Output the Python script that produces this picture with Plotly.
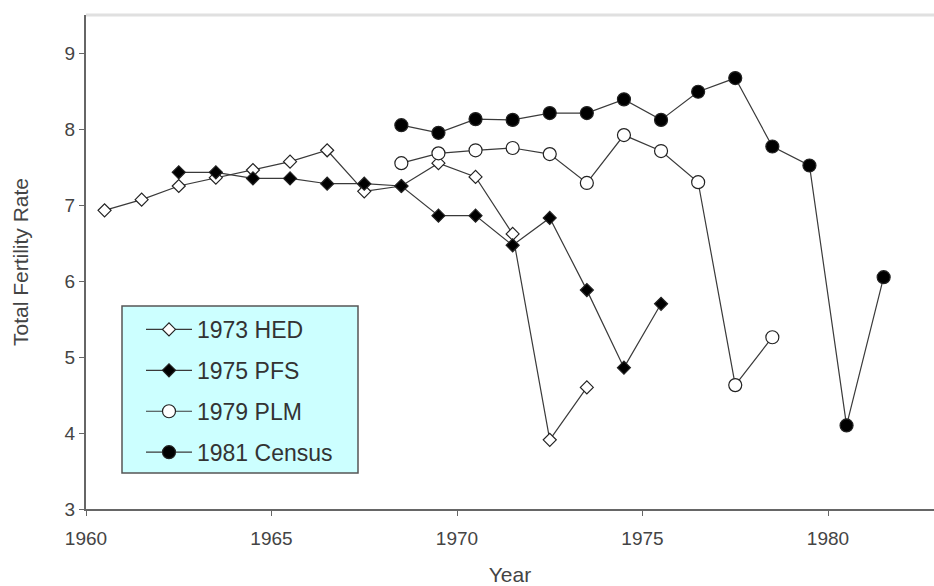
import plotly.graph_objects as go

# Data (year midpoints, total fertility rate)
hed_years = [1960.5, 1961.5, 1962.5, 1963.5, 1964.5, 1965.5, 1966.5, 1967.5,
             1968.5, 1969.5, 1970.5, 1971.5, 1972.5, 1973.5]
hed_tfr = [6.93, 7.07, 7.25, 7.36, 7.46, 7.57, 7.72, 7.18,
           7.25, 7.55, 7.37, 6.62, 3.91, 4.60]

pfs_years = [1962.5, 1963.5, 1964.5, 1965.5, 1966.5, 1967.5, 1968.5,
             1969.5, 1970.5, 1971.5, 1972.5, 1973.5, 1974.5, 1975.5]
pfs_tfr = [7.43, 7.43, 7.35, 7.35, 7.28, 7.28, 7.25,
           6.86, 6.86, 6.47, 6.83, 5.88, 4.86, 5.70]

plm_years = [1968.5, 1969.5, 1970.5, 1971.5, 1972.5, 1973.5, 1974.5,
             1975.5, 1976.5, 1977.5, 1978.5]
plm_tfr = [7.55, 7.68, 7.72, 7.75, 7.67, 7.29, 7.92,
           7.71, 7.30, 4.63, 5.26]

census_years = [1968.5, 1969.5, 1970.5, 1971.5, 1972.5, 1973.5, 1974.5,
                1975.5, 1976.5, 1977.5, 1978.5, 1979.5, 1980.5, 1981.5]
census_tfr = [8.05, 7.95, 8.13, 8.12, 8.21, 8.21, 8.39,
              8.12, 8.49, 8.67, 7.77, 7.52, 4.10, 6.05]

x_ticks = [1960, 1965, 1970, 1975, 1980]
y_ticks = [3, 4, 5, 6, 7, 8, 9]

FONT = "Liberation Sans, Arial, sans-serif"
LINE = "#3a3a3a"

fig = go.Figure()

series = [
    ("1973 HED", hed_years, hed_tfr, "diamond", "white", 10),
    ("1975 PFS", pfs_years, pfs_tfr, "diamond", "black", 10),
    ("1979 PLM", plm_years, plm_tfr, "circle", "white", 13),
    ("1981 Census", census_years, census_tfr, "circle", "black", 13),
]
for i, (name, xs, ys, sym, fill, size) in enumerate(series):
    fig.add_trace(go.Scatter(
        x=xs, y=ys, name=name, mode="lines+markers",
        legendgroup=f"g{i}",
        line=dict(color=LINE, width=1.2),
        marker=dict(symbol=sym, size=size, color=fill,
                    line=dict(color="#222222", width=1.2)),
    ))

W, H = 934, 586
ML, MR, MT, MB = 86, 0, 15, 77
PW, PH = W - ML - MR, H - MT - MB


def px_x(p):
    return (p - ML) / PW


def px_y(p):
    return (H - MB - p) / PH


fig.update_layout(
    width=W, height=H,
    margin=dict(l=ML, r=MR, t=MT, b=MB),
    paper_bgcolor="white", plot_bgcolor="white",
    font=dict(family=FONT, color="#333333"),
    showlegend=True,
    legend=dict(
        x=px_x(141), y=px_y(308), xanchor="left", yanchor="top",
        bgcolor="rgba(0,0,0,0)", borderwidth=0,
        font=dict(size=23, color="#333333", family=FONT),
        tracegroupgap=8, traceorder="grouped",
        itemwidth=46,
    ),
    xaxis=dict(
        range=[1960, 1960 + PW / 37.1], tickvals=x_ticks, ticktext=[str(v) for v in x_ticks],
        showgrid=False, zeroline=False,
        showline=True, linecolor="#666666", linewidth=2,
        ticks="outside", ticklen=5, tickcolor="#666666",
        tickfont=dict(size=19, color="#444444"),
        ticklabelstandoff=6,
        title=dict(text="Year", font=dict(size=21, color="#444444"), standoff=20),
    ),
    yaxis=dict(
        range=[3, 9.5], tickvals=y_ticks,
        showgrid=False, zeroline=False,
        showline=True, linecolor="#666666", linewidth=2,
        ticks="outside", ticklen=5, tickcolor="#666666",
        tickfont=dict(size=19, color="#444444"),
        title=dict(text="Total Fertility Rate", font=dict(size=21, color="#444444"), standoff=30),
    ),
    shapes=[
        dict(type="line", xref="paper", yref="paper", x0=0, x1=1, y0=1, y1=1,
             line=dict(color="#e0e0e0", width=3)),
        dict(type="rect", xref="paper", yref="paper", layer="below",
             x0=px_x(122), x1=px_x(358), y0=px_y(473), y1=px_y(306),
             fillcolor="#ccffff", line=dict(color="#555555", width=1.5)),
    ],
)

fig.write_html("out.html", config={"displayModeBar": False},
               post_script="document.body.style.margin='0';")
